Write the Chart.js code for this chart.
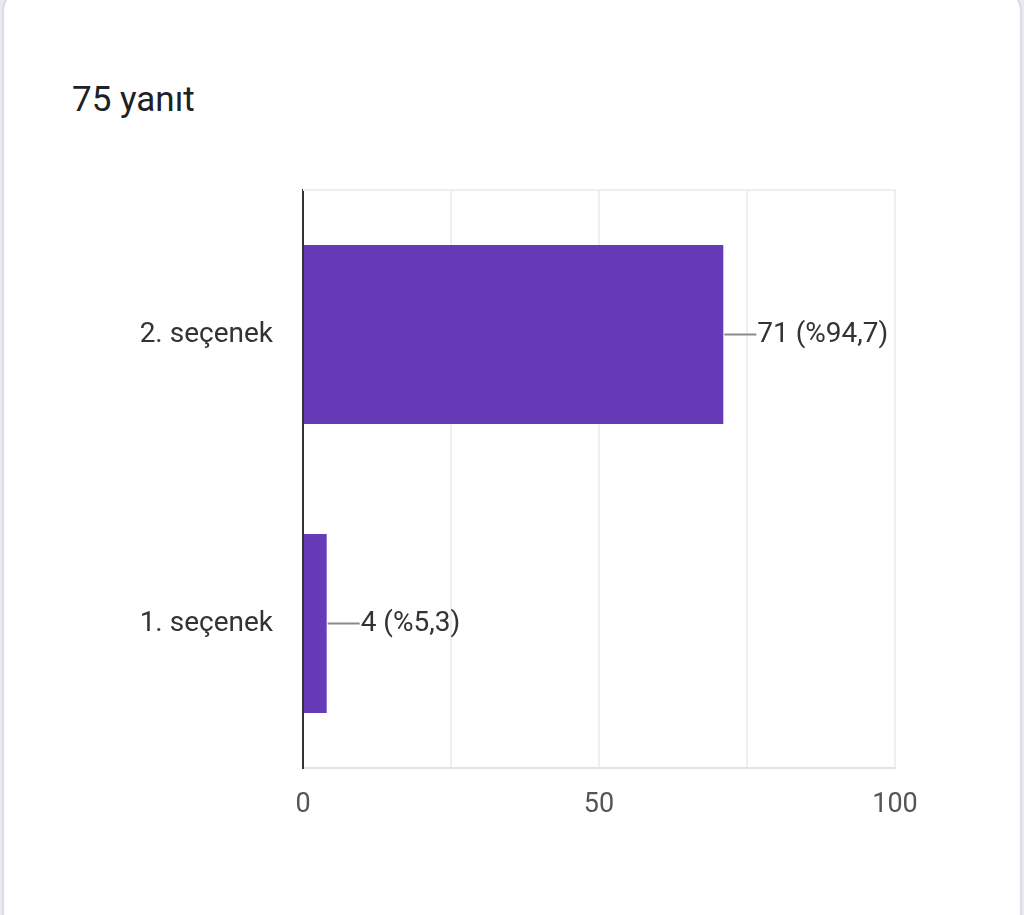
<!DOCTYPE html>
<html><head><meta charset="utf-8">
<script src="https://cdn.jsdelivr.net/npm/chart.js@4"></script>
<style>
html,body{margin:0;padding:0;width:1024px;height:915px;overflow:hidden;background:#ebe9f0;}
#card{position:absolute;left:2px;top:-14px;width:1016px;height:960px;background:#fff;border:2px solid #dcdae3;border-radius:26px;}
#title{position:absolute;left:72px;top:82px;font-family:Roboto,sans-serif;font-size:35px;line-height:35px;color:#202124;white-space:nowrap;}
canvas{position:absolute;left:0;top:0;}
</style>
</head><body>
<div id="card"></div>
<div id="title">75 yanıt</div>
<canvas id="c" width="1024" height="915"></canvas>
<script>
const categories = ['2. seçenek', '1. seçenek'];
const counts = [71, 4];
const percents = ['94,7', '5,3'];
const xTickLabels = [0, 50, 100];

const gridColor = '#efefef';

const frameTop = {
  id: 'frameTop',
  beforeDatasetsDraw(chart) {
    const a = chart.chartArea, ctx = chart.ctx;
    ctx.save();
    ctx.strokeStyle = gridColor;
    ctx.lineWidth = 2;
    ctx.beginPath();
    ctx.moveTo(a.left, a.top);
    ctx.lineTo(a.right + 1, a.top);
    ctx.stroke();
    ctx.restore();
  }
};

const valueLabels = {
  id: 'valueLabels',
  afterDatasetsDraw(chart) {
    const ctx = chart.ctx;
    const meta = chart.getDatasetMeta(0);
    ctx.save();
    meta.data.forEach((el, i) => {
      const x = el.x, y = el.y;
      ctx.strokeStyle = '#8a8a8a';
      ctx.lineWidth = 2;
      ctx.beginPath();
      ctx.moveTo(x + 1, y);
      ctx.lineTo(x + 33, y);
      ctx.stroke();
      ctx.fillStyle = '#333333';
      ctx.font = '28px Roboto';
      ctx.textAlign = 'left';
      ctx.textBaseline = 'middle';
      ctx.fillText(counts[i] + ' (%' + percents[i] + ')', x + 34, y);
    });
    ctx.restore();
  }
};

new Chart(document.getElementById('c'), {
  type: 'bar',
  data: {
    labels: categories,
    datasets: [{
      data: counts,
      backgroundColor: '#673ab7',
      borderWidth: 0,
      barPercentage: 0.62,
      categoryPercentage: 1.0
    }]
  },
  options: {
    indexAxis: 'y',
    responsive: false,
    animation: false,
    devicePixelRatio: 1,
    layout: { padding: { top: 190, right: 129, left: 0, bottom: 0 } },
    plugins: { legend: { display: false }, tooltip: { enabled: false }, title: { display: false } },
    scales: {
      x: {
        min: 0, max: 100,
        ticks: {
          stepSize: 25, autoSkip: false, maxRotation: 0,
          callback: v => xTickLabels.includes(v) ? String(v) : '',
          font: { family: 'Roboto', size: 27 }, color: '#555555', padding: 21
        },
        grid: { color: gridColor, lineWidth: 2, drawTicks: false },
        border: { display: true, color: '#e4e4e4', width: 2 },
        afterFit: s => { s.height = 915 - 768; }
      },
      y: {
        z: 1,
        ticks: { font: { family: 'Roboto', size: 28 }, color: '#333333', padding: 30 },
        grid: { display: false, drawTicks: false },
        border: { display: true, color: '#333333', width: 2 },
        afterFit: s => { s.width = 303; }
      }
    }
  },
  plugins: [frameTop, valueLabels]
});
</script>
</body></html>
